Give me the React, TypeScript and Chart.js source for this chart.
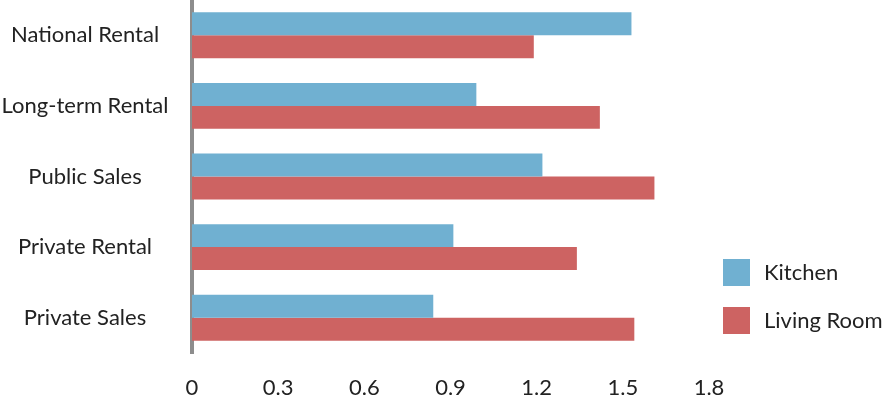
import React, { useEffect, useRef } from "react";
import { Chart, registerables } from "chart.js";

Chart.register(...registerables);

const categories = ["National Rental", "Long-term Rental", "Public Sales", "Private Rental", "Private Sales"];
const seriesNames = ["Kitchen", "Living Room"];
const kitchenValues = [1.53, 0.99, 1.22, 0.91, 0.84];
const livingRoomValues = [1.19, 1.42, 1.61, 1.34, 1.54];
const xTickValues = [0, 0.3, 0.6, 0.9, 1.2, 1.5, 1.8];

const W = 882;
const H = 396;
const FONT_FAMILY = "Lato";
const FONT_SIZE = 22;
const TEXT_COLOR = "#222222";
const KITCHEN_COLOR = "#70b0d1";
const LIVING_COLOR = "#cd6362";
const AXIS_COLOR = "#8d8d8d";
const Y_AXIS_WIDTH = 192;
const LABEL_CENTER_X = 85;
const X_AXIS_HEIGHT = 43;
const PLOT_RIGHT = 709;

const legendPlugin = {
  id: "sideLegend",
  afterDraw(chart: any) {
    const ctx = chart.ctx;
    ctx.save();
    ctx.font = `${FONT_SIZE}px ${FONT_FAMILY}`;
    ctx.textBaseline = "middle";
    ctx.textAlign = "left";
    chart.data.datasets.forEach((ds: any, i: number) => {
      const y = 259 + i * 48;
      ctx.fillStyle = ds.backgroundColor;
      ctx.fillRect(723, y, 27, 27);
      ctx.fillStyle = TEXT_COLOR;
      ctx.fillText(ds.label, 764, y + 14);
    });
    ctx.restore();
  },
};

export default function App() {
  const canvasRef = useRef<HTMLCanvasElement | null>(null);

  useEffect(() => {
    const canvas = canvasRef.current;
    if (!canvas) return;
    const mctx = document.createElement("canvas").getContext("2d")!;
    mctx.font = `${FONT_SIZE}px ${FONT_FAMILY}`;
    const widest = Math.max(...categories.map((c) => mctx.measureText(c).width));
    const yPad = Y_AXIS_WIDTH - LABEL_CENTER_X - widest / 2;

    const chart = new Chart(canvas, {
      type: "bar",
      data: {
        labels: categories,
        datasets: [
          {
            label: seriesNames[0],
            data: kitchenValues,
            backgroundColor: KITCHEN_COLOR,
            borderWidth: 0,
            barPercentage: 1,
            categoryPercentage: 0.65,
          },
          {
            label: seriesNames[1],
            data: livingRoomValues,
            backgroundColor: LIVING_COLOR,
            borderWidth: 0,
            barPercentage: 1,
            categoryPercentage: 0.65,
          },
        ],
      },
      options: {
        indexAxis: "y",
        responsive: false,
        animation: false,
        layout: { padding: { left: 0, top: 0, right: W - PLOT_RIGHT, bottom: 0 } },
        plugins: { legend: { display: false }, tooltip: { enabled: false } },
        font: { family: FONT_FAMILY, size: FONT_SIZE },
        scales: {
          x: {
            type: "linear",
            min: 0,
            max: 1.8,
            grid: { display: false, drawTicks: false },
            border: { display: false },
            afterBuildTicks: (scale: any) => {
              scale.ticks = xTickValues.map((v) => ({ value: v }));
            },
            afterFit: (scale: any) => {
              scale.height = X_AXIS_HEIGHT;
              scale.paddingLeft = 0;
              scale.paddingRight = 0;
            },
            ticks: {
              color: TEXT_COLOR,
              font: { family: FONT_FAMILY, size: FONT_SIZE },
              padding: 22,
              maxRotation: 0,
              autoSkip: false,
              callback: (v: any) => String(Math.round(Number(v) * 10) / 10),
            },
          },
          y: {
            type: "category",
            z: 1,
            grid: { display: false, drawTicks: false },
            border: { display: true, color: AXIS_COLOR, width: 4 },
            afterFit: (scale: any) => {
              scale.width = Y_AXIS_WIDTH;
              scale.paddingTop = 0;
              scale.paddingBottom = 0;
            },
            ticks: {
              color: TEXT_COLOR,
              font: { family: FONT_FAMILY, size: FONT_SIZE },
              crossAlign: "center",
              padding: yPad,
              autoSkip: false,
            },
          },
        },
      },
      plugins: [legendPlugin],
    });
    return () => chart.destroy();
  }, []);

  return (
    <div style={{ position: "fixed", left: 0, top: 0, width: W, height: H, background: "#fff" }}>
      <canvas ref={canvasRef} width={W} height={H} style={{ display: "block", width: W, height: H }} />
    </div>
  );
}
